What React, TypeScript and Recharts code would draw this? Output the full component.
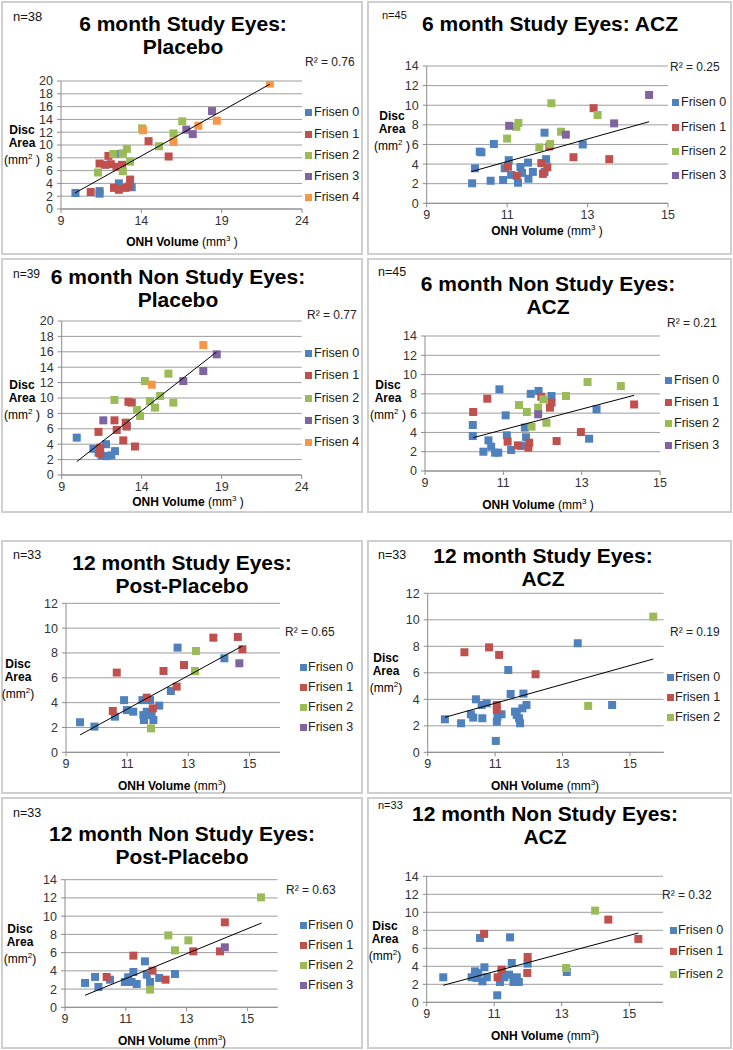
import React from 'react';
import { ScatterChart, Scatter, XAxis, YAxis, CartesianGrid } from 'recharts';

type Pt = [number, number];

const frisenNames = ['Frisen 0', 'Frisen 1', 'Frisen 2', 'Frisen 3', 'Frisen 4'];
const frisenColors = ['#4F81BD', '#C0504D', '#9BBB59', '#8064A2', '#F79646'];

const ticksWide = [9, 14, 19, 24];
const ticksNarrow = [9, 11, 13, 15];
const ticks20 = [0, 2, 4, 6, 8, 10, 12, 14, 16, 18, 20];
const ticks14 = [0, 2, 4, 6, 8, 10, 12, 14];
const ticks12 = [0, 2, 4, 6, 8, 10, 12];

// 6 month study eyes: placebo
const p1F0: Pt[] = [[9.9, 2.5], [11.4, 2.4], [11.4, 2.8], [12.35, 8.6], [12.6, 4.0], [13.4, 3.4]];
const p1F1: Pt[] = [[10.85, 2.65], [11.4, 7.1], [11.95, 8.3], [11.75, 6.9], [12.1, 7.0], [12.45, 6.6], [12.8, 6.9], [12.3, 3.3], [12.6, 3.0], [13.0, 3.3], [13.2, 3.5], [13.3, 4.6], [14.45, 10.6], [15.7, 8.2]];
const p1F2: Pt[] = [[11.3, 5.7], [12.25, 8.6], [12.85, 8.7], [13.1, 9.4], [12.85, 5.9], [13.3, 7.4], [14.05, 12.6], [15.1, 9.8], [16.0, 11.8], [16.55, 13.7]];
const p1F3: Pt[] = [[16.8, 12.4], [17.2, 11.7], [18.4, 15.3]];
const p1F4: Pt[] = [[14.1, 12.3], [16.0, 10.5], [17.55, 13.0], [18.7, 13.8], [22.0, 19.6]];
const p1Trend: Pt[] = [[9.87, 2.5], [22.0, 19.5]];

// 6 month study eyes: ACZ
const p2F0: Pt[] = [[10.13, 2.04], [10.2, 3.57], [10.32, 5.27], [10.36, 5.2], [10.59, 2.3], [10.67, 6.05], [10.9, 2.38], [10.94, 3.57], [11.04, 4.4], [11.1, 2.9], [11.27, 2.1], [11.33, 3.7], [11.37, 3.1], [11.52, 4.15], [11.53, 2.5], [11.64, 3.2], [11.93, 7.2], [11.97, 4.5], [11.93, 3.2], [12.88, 6.0]];
const p2F1: Pt[] = [[11.02, 3.74], [11.24, 2.8], [11.85, 4.1], [11.89, 3.0], [12.0, 3.67], [12.05, 5.8], [13.15, 9.7], [12.65, 4.7], [13.54, 4.5]];
const p2F2: Pt[] = [[11.0, 6.6], [11.23, 7.8], [11.28, 8.2], [11.8, 5.7], [12.1, 10.2], [12.34, 7.3], [12.07, 6.05], [13.25, 9.0]];
const p2F3: Pt[] = [[11.05, 7.9], [12.46, 7.0], [13.66, 8.15], [14.53, 11.05]];
const p2Trend: Pt[] = [[10.11, 3.23], [14.53, 8.32]];

// 6 month non study eyes: placebo
const p3F0: Pt[] = [[9.94, 4.85], [10.98, 3.4], [11.3, 2.9], [11.5, 2.5], [11.77, 4.0], [11.8, 2.45], [12.1, 2.55], [12.33, 3.1], [13.06, 6.35]];
const p3F1: Pt[] = [[11.3, 5.6], [11.4, 3.55], [11.4, 2.8], [12.3, 7.1], [12.44, 5.85], [12.85, 4.5], [13.0, 6.8], [13.06, 6.3], [13.17, 9.5], [13.38, 9.4], [13.58, 3.7]];
const p3F2: Pt[] = [[12.3, 9.75], [13.7, 8.45], [13.9, 7.66], [14.2, 12.2], [14.52, 9.6], [14.83, 8.75], [15.15, 10.26], [15.67, 13.16], [15.98, 9.4]];
const p3F3: Pt[] = [[11.6, 7.1], [16.6, 12.2], [17.85, 13.5], [18.69, 15.67]];
const p3F4: Pt[] = [[14.63, 11.73], [17.85, 16.88]];
const p3Trend: Pt[] = [[9.94, 1.73], [18.69, 16.0]];

// 6 month non study eyes: ACZ
const p4F0: Pt[] = [[10.22, 4.77], [10.22, 3.63], [10.49, 2.0], [10.62, 3.18], [10.69, 2.52], [10.79, 1.9], [10.87, 1.9], [10.9, 8.47], [11.06, 5.77], [11.09, 3.7], [11.2, 2.18], [11.45, 2.6], [11.55, 4.5], [11.58, 3.5], [11.7, 8.0], [11.9, 8.3], [12.23, 7.78], [13.38, 6.4], [13.19, 3.35]];
const p4F1: Pt[] = [[10.23, 6.12], [10.59, 7.5], [11.11, 3.04], [11.37, 2.66], [11.64, 2.42], [11.66, 2.94], [11.97, 7.7], [12.19, 6.57], [12.23, 7.09], [12.36, 3.11], [12.98, 4.04], [14.34, 6.9]];
const p4F2: Pt[] = [[11.4, 6.84], [11.6, 6.12], [11.72, 4.6], [11.89, 6.57], [12.02, 7.43], [12.1, 5.0], [12.6, 7.78], [13.15, 9.23], [14.0, 8.81]];
const p4F3: Pt[] = [[11.89, 5.88]];
const p4Trend: Pt[] = [[10.23, 3.46], [14.34, 7.85]];

// 12 month study eyes: post-placebo
const p5F0: Pt[] = [[9.46, 2.42], [9.93, 2.07], [10.6, 2.87], [10.9, 4.2], [10.99, 3.4], [11.2, 3.27], [11.5, 4.2], [11.53, 3.0], [11.55, 2.6], [11.64, 3.27], [11.75, 4.2], [11.8, 3.0], [11.86, 2.6], [12.05, 3.76], [12.43, 4.94], [12.65, 8.43], [14.18, 7.57]];
const p5F1: Pt[] = [[10.53, 3.33], [10.66, 6.42], [11.64, 4.4], [11.84, 3.54], [12.19, 6.55], [12.62, 5.29], [12.86, 7.03], [13.82, 9.23], [14.62, 9.29], [14.77, 8.3]];
const p5F2: Pt[] = [[11.78, 1.93], [13.22, 6.55], [13.25, 8.16]];
const p5F3: Pt[] = [[14.67, 7.17]];
const p5Trend: Pt[] = [[9.46, 1.4], [14.77, 8.56]];

// 12 month study eyes: ACZ
const p6F0: Pt[] = [[9.51, 2.49], [9.99, 2.19], [10.28, 2.87], [10.35, 2.62], [10.43, 4.0], [10.6, 3.57], [10.62, 2.57], [10.75, 3.7], [11.02, 0.86], [11.05, 2.31], [11.07, 2.69], [11.19, 2.87], [11.39, 6.21], [11.46, 4.4], [11.59, 3.07], [11.64, 2.82], [11.71, 2.57], [11.74, 2.19], [11.81, 3.32], [11.84, 4.43], [11.93, 3.57], [13.45, 8.23], [14.47, 3.57]];
const p6F1: Pt[] = [[10.09, 7.55], [10.82, 7.92], [11.12, 7.35], [11.05, 3.57], [11.05, 3.2], [12.2, 5.89]];
const p6F2: Pt[] = [[13.76, 3.5], [15.69, 10.24]];
const p6Trend: Pt[] = [[9.51, 2.64], [15.69, 7.04]];

// 12 month non study eyes: post-placebo
const p7F0: Pt[] = [[9.66, 2.67], [9.99, 3.33], [10.1, 2.23], [10.48, 3.03], [10.97, 2.78], [11.08, 3.29], [11.19, 2.78], [11.25, 3.87], [11.36, 2.56], [11.63, 5.04], [11.69, 3.58], [11.8, 2.78], [12.1, 3.22], [12.62, 3.65]];
const p7F1: Pt[] = [[10.37, 3.33], [11.25, 5.67], [11.88, 4.02], [12.31, 3.03], [13.22, 6.14], [14.1, 6.14], [14.26, 9.32]];
const p7F2: Pt[] = [[11.8, 1.94], [12.4, 7.89], [12.62, 6.25], [13.06, 7.35], [15.45, 12.06]];
const p7F3: Pt[] = [[14.26, 6.58]];
const p7Trend: Pt[] = [[9.66, 1.32], [15.47, 9.25]];

// 12 month non study eyes: ACZ
const p8F0: Pt[] = [[9.49, 2.78], [10.33, 2.78], [10.43, 3.44], [10.48, 2.7], [10.53, 3.26], [10.58, 7.15], [10.65, 2.33], [10.71, 3.89], [10.78, 2.78], [11.09, 0.78], [11.17, 2.26], [11.22, 3.44], [11.3, 2.78], [11.47, 7.22], [11.44, 3.07], [11.52, 4.37], [11.57, 2.26], [11.67, 2.78], [11.73, 2.26], [11.99, 4.3], [13.15, 3.37]];
const p8F1: Pt[] = [[10.7, 7.6], [11.1, 2.78], [11.22, 3.63], [11.98, 3.26], [11.99, 5.04], [14.38, 9.19], [15.27, 7.04]];
const p8F2: Pt[] = [[13.99, 10.19], [13.13, 3.81]];
const p8Trend: Pt[] = [[9.49, 1.89], [15.27, 7.7]];

const FONT = '"Liberation Sans", Arial, sans-serif';

type PanelDef = {
  frame: [number, number, number, number];
  xPx: [number, number];
  yPx: [number, number];
  xDomain: [number, number];
  xTicks: number[];
  yDomain: [number, number];
  yTicks: number[];
  series: Pt[][];
  trend: Pt[];
  n: string;
  nPos: [number, number, number];
  title: string[];
  titlePos: [number, number];
  r2: string;
  r2Pos: [number, number];
  yLabelPos: [number, number];
  xLabelPos: [number, number];
  legendX: number;
  legendY: number[];
  late: boolean;
};

const panels: PanelDef[] = [
  {
    frame: [1, 1, 363, 255], xPx: [61, 302], yPx: [209, 81],
    xDomain: [9, 24], xTicks: ticksWide, yDomain: [0, 20], yTicks: ticks20,
    series: [p1F0, p1F1, p1F2, p1F3, p1F4], trend: p1Trend,
    n: 'n=38', nPos: [13, 16, 13], title: ['6 month Study Eyes:', 'Placebo'], titlePos: [183, 23],
    r2: 'R² = 0.76', r2Pos: [305, 62], yLabelPos: [22, 145], xLabelPos: [182, 241],
    legendX: 305, legendY: [112, 134, 155, 176, 197], late: false,
  },
  {
    frame: [367, 1, 732, 255], xPx: [426.7, 668], yPx: [203.3, 66],
    xDomain: [9, 15], xTicks: ticksNarrow, yDomain: [0, 14], yTicks: ticks14,
    series: [p2F0, p2F1, p2F2, p2F3], trend: p2Trend,
    n: 'n=45', nPos: [382, 15, 11], title: ['6 month Study Eyes: ACZ'], titlePos: [550, 23],
    r2: 'R² = 0.25', r2Pos: [670, 67], yLabelPos: [392, 131], xLabelPos: [547, 230],
    legendX: 672, legendY: [102, 127, 151, 175], late: false,
  },
  {
    frame: [1, 258, 363, 513], xPx: [61.7, 301.7], yPx: [475, 321],
    xDomain: [9, 24], xTicks: ticksWide, yDomain: [0, 20], yTicks: ticks20,
    series: [p3F0, p3F1, p3F2, p3F3, p3F4], trend: p3Trend,
    n: 'n=39', nPos: [13, 274, 12], title: ['6 month Non Study Eyes:', 'Placebo'], titlePos: [178, 276],
    r2: 'R² = 0.77', r2Pos: [307, 315], yLabelPos: [22, 400], xLabelPos: [188, 501],
    legendX: 305, legendY: [353, 375, 398, 420, 442], late: false,
  },
  {
    frame: [367, 258, 732, 513], xPx: [425, 660], yPx: [471, 336],
    xDomain: [9, 15], xTicks: ticksNarrow, yDomain: [0, 14], yTicks: ticks14,
    series: [p4F0, p4F1, p4F2, p4F3], trend: p4Trend,
    n: 'n=45', nPos: [378, 272, 12.5], title: ['6 month Non Study Eyes:', 'ACZ'], titlePos: [548, 283],
    r2: 'R² = 0.21', r2Pos: [667, 323], yLabelPos: [388, 400], xLabelPos: [538, 504],
    legendX: 665, legendY: [380, 402, 423, 445], late: false,
  },
  {
    frame: [1, 540, 363, 794], xPx: [66, 280], yPx: [752.3, 603.3],
    xDomain: [9, 16], xTicks: ticksNarrow, yDomain: [0, 12], yTicks: ticks12,
    series: [p5F0, p5F1, p5F2, p5F3], trend: p5Trend,
    n: 'n=33', nPos: [13, 555, 12.5], title: ['12 month Study Eyes:', 'Post-Placebo'], titlePos: [182, 562],
    r2: 'R² = 0.65', r2Pos: [285, 632], yLabelPos: [18, 679], xLabelPos: [172, 785],
    legendX: 300, legendY: [667, 687, 707, 727], late: true,
  },
  {
    frame: [367, 540, 732, 794], xPx: [427.7, 663.7], yPx: [752.3, 593.3],
    xDomain: [9, 16], xTicks: ticksNarrow, yDomain: [0, 12], yTicks: ticks12,
    series: [p6F0, p6F1, p6F2], trend: p6Trend,
    n: 'n=33', nPos: [378, 555, 12.5], title: ['12 month Study Eyes:', 'ACZ'], titlePos: [543, 555],
    r2: 'R² = 0.19', r2Pos: [670, 632], yLabelPos: [386, 673], xLabelPos: [545, 785],
    legendX: 667, legendY: [677, 697, 717], late: true,
  },
  {
    frame: [1, 797, 363, 1049], xPx: [65, 277.7], yPx: [1007.3, 879.7],
    xDomain: [9, 16], xTicks: ticksNarrow, yDomain: [0, 14], yTicks: ticks14,
    series: [p7F0, p7F1, p7F2, p7F3], trend: p7Trend,
    n: 'n=33', nPos: [13, 813, 12.5], title: ['12 month Non Study Eyes:', 'Post-Placebo'], titlePos: [182, 833],
    r2: 'R² = 0.63', r2Pos: [286, 890], yLabelPos: [20, 944], xLabelPos: [172, 1040],
    legendX: 300, legendY: [925, 945, 965, 985], late: true,
  },
  {
    frame: [367, 797, 732, 1049], xPx: [426.7, 663], yPx: [1002.3, 876.3],
    xDomain: [9, 16], xTicks: ticksNarrow, yDomain: [0, 14], yTicks: ticks14,
    series: [p8F0, p8F1, p8F2], trend: p8Trend,
    n: 'n=33', nPos: [378, 805, 11], title: ['12 month Non Study Eyes:', 'ACZ'], titlePos: [545, 813],
    r2: 'R² = 0.32', r2Pos: [662, 895], yLabelPos: [385, 941], xLabelPos: [545, 1035],
    legendX: 670, legendY: [930, 951, 974], late: true,
  },
];

const toRows = (pts: Pt[]) => pts.map(([x, y]) => ({ x, y }));

const Square = (props: any) => {
  const { cx, cy, fill } = props;
  if (cx == null || cy == null) return <g />;
  return <rect x={cx - 4} y={cy - 4} width={8} height={8} fill={fill} />;
};

const NoDot = () => <g />;

const abs = (x: number, y: number, centered: boolean, extra: React.CSSProperties = {}): React.CSSProperties => ({
  position: 'absolute',
  left: x,
  top: y,
  transform: centered ? 'translate(-50%, -50%)' : 'translate(0, -50%)',
  whiteSpace: 'nowrap',
  textAlign: 'center',
  fontFamily: FONT,
  color: '#111',
  ...extra,
});

function Panel({ p }: { p: PanelDef }) {
  const [l, t, r, b] = p.frame;
  const w = r - l;
  const h = b - t;
  const plotLeft = p.xPx[0] - l;
  const plotRight = p.xPx[1] - l;
  const plotTop = p.yPx[1] - t;
  const plotBottom = p.yPx[0] - t;
  const xAxisH = 20;
  const tickStyle = { fontSize: 12.5, fill: '#333', fontFamily: FONT };

  return (
    <>
      <div style={{ position: 'absolute', left: l, top: t, width: w, height: h, border: '2px solid #cfcfcf', boxSizing: 'border-box' }} />
      <div style={{ position: 'absolute', left: l, top: t, width: w, height: h }}>
        <ScatterChart
          width={w}
          height={h}
          margin={{ top: plotTop, right: w - plotRight, left: 0, bottom: h - plotBottom - xAxisH }}
        >
          <CartesianGrid vertical={false} stroke="#9d9d9d" strokeWidth={1} />
          <XAxis
            type="number"
            dataKey="x"
            domain={p.xDomain}
            ticks={p.xTicks}
            interval={0}
            allowDataOverflow
            height={xAxisH}
            tick={tickStyle}
            tickSize={4}
            tickMargin={3}
            stroke="#8c8c8c"
          />
          <YAxis
            type="number"
            dataKey="y"
            domain={p.yDomain}
            ticks={p.yTicks}
            interval={0}
            allowDataOverflow
            width={plotLeft}
            tick={tickStyle}
            tickSize={4}
            tickMargin={4}
            stroke="#8c8c8c"
          />
          {p.series.map((s, i) => (
            <Scatter
              key={i}
              data={toRows(s)}
              fill={frisenColors[i]}
              shape={Square}
              isAnimationActive={false}
            />
          ))}
          <Scatter
            data={toRows(p.trend)}
            fill="none"
            line={{ stroke: '#000', strokeWidth: 1 }}
            shape={NoDot}
            isAnimationActive={false}
          />
        </ScatterChart>
      </div>

      <div style={abs(p.nPos[0], p.nPos[1], false, { fontSize: p.nPos[2] })}>{p.n}</div>
      <div style={abs(p.titlePos[0], p.titlePos[1] + (p.title.length - 1) * 11.5, true, { fontSize: 21, fontWeight: 'bold', lineHeight: '23px', color: '#000' })}>
        {p.title.map((line, i) => (
          <div key={i}>{line}</div>
        ))}
      </div>
      <div style={abs(p.r2Pos[0], p.r2Pos[1], false, { fontSize: 12, color: '#222' })}>{p.r2}</div>
      <div style={abs(p.yLabelPos[0], p.yLabelPos[1], true, { fontSize: 12, lineHeight: '13px', color: '#000' })}>
        <div style={{ fontWeight: 'bold' }}>Disc</div>
        <div style={{ fontWeight: 'bold' }}>Area</div>
        <div>{p.late ? <>(mm<sup style={{ fontSize: 8 }}>2</sup>)</> : <>(mm<sup style={{ fontSize: 8 }}>2</sup> )</>}</div>
      </div>
      <div style={abs(p.xLabelPos[0], p.xLabelPos[1], true, { fontSize: 12, color: '#000' })}>
        <b>ONH Volume</b> (mm<sup style={{ fontSize: 8 }}>3</sup>{p.late ? '' : ' '})
      </div>
      {p.legendY.map((cy, i) => (
        <div key={i} style={abs(p.legendX, cy, false, { fontSize: 12.5, color: '#222', display: 'flex', alignItems: 'center' })}>
          <span style={{ display: 'inline-block', width: 7, height: 7, background: frisenColors[i], marginRight: p.late ? 1 : 2 }} />
          {frisenNames[i]}
        </div>
      ))}
    </>
  );
}

export default function App() {
  return (
    <div style={{ position: 'absolute', left: 0, top: 0, width: 733, height: 1050, background: '#fff', overflow: 'hidden' }}>
      {panels.map((p, i) => (
        <Panel key={i} p={p} />
      ))}
    </div>
  );
}
